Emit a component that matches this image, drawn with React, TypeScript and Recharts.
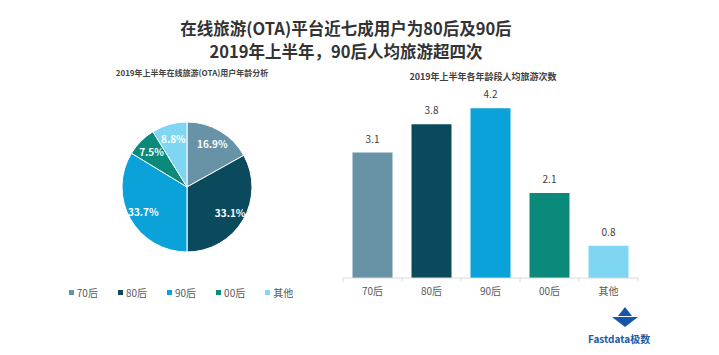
import { Bar, BarChart, Cell, LabelList, Pie, PieChart, XAxis, YAxis } from "recharts";

const categories = ["70后", "80后", "90后", "00后", "其他"];
const shareValues = [16.9, 33.1, 33.7, 7.5, 8.8];
const tripValues = [3.1, 3.8, 4.2, 2.1, 0.8];
const colors = ["#6892a5", "#0b4a5d", "#0aa2d9", "#0b8a7b", "#7ed6f3"];

const pieData = categories.map((name, i) => ({ name, value: shareValues[i] }));
const barData = categories.map((name, i) => ({ name, value: tripValues[i] }));

const FONT = '"Noto Sans CJK SC", "Noto Sans", sans-serif';
const RAD = Math.PI / 180;

function PieLabel(props: any) {
  const { cx, cy, midAngle, outerRadius, value } = props;
  const r = outerRadius * 0.77;
  const x = cx + r * Math.cos(-midAngle * RAD);
  const y = cy + r * Math.sin(-midAngle * RAD);
  return (
    <text x={x} y={y} fill="#fff" fontSize={10} fontWeight="bold" textAnchor="middle" dominantBaseline="central">
      {value.toFixed(1)}%
    </text>
  );
}

function PieLegend() {
  return (
    <div style={{ display: "flex", justifyContent: "center", gap: 20, fontSize: 10, color: "#595959" }}>
      {categories.map((c, i) => (
        <span key={c} style={{ display: "flex", alignItems: "center" }}>
          <span style={{ width: 5, height: 5, background: colors[i], marginRight: 3, display: "inline-block" }} />
          {c}
        </span>
      ))}
    </div>
  );
}

function CatTick(props: any) {
  const { x, y, payload, index } = props;
  const half = 29.5;
  return (
    <g>
      <line x1={x - half} x2={x - half} y1={y - 8} y2={y - 4} stroke="#d9d9d9" />
      {index === categories.length - 1 && <line x1={x + half} x2={x + half} y1={y - 8} y2={y - 4} stroke="#d9d9d9" />}
      <text x={x} y={y + 9} textAnchor="middle" fontSize={10} fill="#595959" fontFamily={FONT}>
        {payload.value}
      </text>
    </g>
  );
}

export default function App() {
  return (
    <div style={{ position: "absolute", left: 0, top: 0, width: 719, height: 355, background: "#fff", fontFamily: FONT, overflow: "hidden" }}>
      <div style={{ position: "absolute", left: 0, width: 692, top: 17, textAlign: "center", fontSize: 16.5, fontWeight: "bold", color: "#333", lineHeight: "22px" }}>
        在线旅游(OTA)平台近七成用户为80后及90后
      </div>
      <div style={{ position: "absolute", left: 0, width: 692, top: 40, textAlign: "center", fontSize: 16.5, fontWeight: "bold", color: "#333", lineHeight: "22px" }}>
        2019年上半年，90后人均旅游超四次
      </div>

      <div style={{ position: "absolute", left: 90, width: 204, top: 67, textAlign: "center", fontSize: 8, fontWeight: "bold", color: "#444" }}>
        2019年上半年在线旅游(OTA)用户年龄分析
      </div>
      <div style={{ position: "absolute", left: 60, top: 100 }}>
        <PieChart width={260} height={200}>
          <Pie
            data={pieData}
            dataKey="value"
            nameKey="name"
            cx={122}
            cy={82}
            outerRadius={65}
            startAngle={90}
            endAngle={-270}
            stroke="#fff"
            strokeWidth={1}
            label={PieLabel}
            labelLine={false}
            isAnimationActive={false}
          >
            {pieData.map((d, i) => (
              <Cell key={d.name} fill={colors[i]} />
            ))}
          </Pie>
        </PieChart>
      </div>
      <div style={{ position: "absolute", left: 56, width: 250, top: 285 }}>
        <PieLegend />
      </div>

      <div style={{ position: "absolute", left: 380, width: 206, top: 70, textAlign: "center", fontSize: 9, fontWeight: "bold", color: "#404040" }}>
        2019年上半年各年龄段人均旅游次数
      </div>
      <div style={{ position: "absolute", left: 330, top: 60 }}>
        <BarChart width={320} height={250} data={barData} margin={{ top: 36, right: 12, bottom: 0, left: 13 }} barCategoryGap={9.5}>
          <XAxis dataKey="name" stroke="#d9d9d9" tickLine={false} tick={CatTick} height={32} interval={0} />
          <YAxis hide domain={[0, 4.5]} />
          <Bar dataKey="value" isAnimationActive={false}>
            {barData.map((d, i) => (
              <Cell key={d.name} fill={colors[i]} />
            ))}
            <LabelList dataKey="value" position="top" offset={10} fontSize={10} fill="#404040" formatter={(v: any) => Number(v).toFixed(1)} />
          </Bar>
        </BarChart>
      </div>

      <svg style={{ position: "absolute", left: 610, top: 306 }} width={30} height={22}>
        <polygon points="15,1 8,10 22,10" fill="#1556a8" />
        <polygon points="2,11 28,11 15,21" fill="#1556a8" />
      </svg>
      <div style={{ position: "absolute", left: 588, top: 331, fontSize: 10, fontWeight: "bold", color: "#1a5aa8" }}>Fastdata极数</div>
    </div>
  );
}
